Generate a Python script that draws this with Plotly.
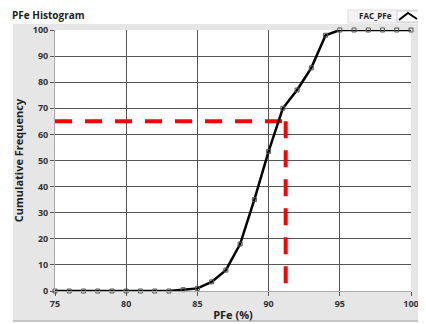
import plotly.graph_objects as go

pfe = list(range(75, 101))
cum_freq = [0, 0, 0, 0, 0, 0, 0, 0, 0, 0.5, 1, 3.5, 8, 18, 35, 53.5, 70, 77, 85.5, 98, 100, 100, 100, 100, 100, 100]
target_x = 91.2
target_y = 65
x_ticks = [75, 80, 85, 90, 95, 100]
y_ticks = [0, 10, 20, 30, 40, 50, 60, 70, 80, 90, 100]

FONT = "Open Sans"
W, H = 356, 261
fig = go.Figure()

fig.add_trace(go.Scatter(
    x=[pfe[0], target_x], y=[target_y, target_y], mode="lines",
    line=dict(color="#ff0000", width=4, dash="17px,13px"), hoverinfo="skip"))
fig.add_trace(go.Scatter(
    x=[target_x, target_x], y=[target_y, 0], mode="lines",
    line=dict(color="#ff0000", width=4, dash="17px,12px"), hoverinfo="skip"))
fig.add_trace(go.Scatter(
    x=pfe, y=cum_freq, mode="lines+markers", name="FAC_PFe",
    line=dict(color="#000000", width=2.5),
    marker=dict(symbol="square-open", size=4, color="#555555", line=dict(width=1)),
    cliponaxis=False))

# the page body adds an 8px offset, so the figure is 8px smaller
fig.update_layout(
    width=418, height=316,
    margin=dict(l=47, r=15, t=22, b=33, autoexpand=False),
    paper_bgcolor="#ffffff", plot_bgcolor="#ffffff",
    showlegend=False,
    font=dict(family=FONT, size=9, color="#333333"),
    shapes=[
        dict(type="rect", xref="paper", yref="paper", layer="below",
             x0=-42 / W, x1=1 + 11 / W, y0=-29 / H, y1=1 + 6 / H,
             fillcolor="#e6e6e6", line=dict(width=0)),
        dict(type="line", xref="paper", yref="paper", layer="below",
             x0=-42 / W, x1=1 + 11 / W, y0=-30 / H, y1=-30 / H,
             line=dict(color="#c4c4c4", width=2)),
        dict(type="rect", xref="x domain", yref="y domain", layer="below",
             x0=0, x1=1, y0=0, y1=1,
             fillcolor="#ffffff", line=dict(width=0)),
        dict(type="rect", xref="paper", yref="paper",
             x0=1 - 63 / W, x1=1 + 9 / W, y0=1 + 7 / H, y1=1 + 20 / H,
             fillcolor="#f4f4f4", line=dict(color="#dddddd", width=1)),
        dict(type="rect", xref="paper", yref="paper",
             x0=1 - 14 / W, x1=1 + 8 / W, y0=1 + 8 / H, y1=1 + 19 / H,
             fillcolor="#ffffff", line=dict(color="#cccccc", width=1)),
        dict(type="path", xref="paper", yref="paper",
             path="M %f %f L %f %f L %f %f" % (1 - 12 / W, 1 + 10 / H, 1 - 3 / W,
                                              1 + 17 / H, 1 + 6 / W, 1 + 11 / H),
             line=dict(color="#000000", width=2)),
    ],
    annotations=[
        dict(text="<b>PFe Histogram</b>", xref="paper", yref="paper",
             x=-45 / W, y=1 + 15 / H, xanchor="left", yanchor="middle",
             showarrow=False, font=dict(family=FONT, size=10, color="#222222")),
        dict(text="<b>FAC_PFe</b>", xref="paper", yref="paper",
             x=1 - 17 / W, y=1 + 14 / H, xanchor="right", yanchor="middle",
             showarrow=False, font=dict(family=FONT, size=8, color="#222222")),
    ],
)

fig.update_xaxes(
    range=[75, 100], tickvals=x_ticks, ticktext=[str(v) for v in x_ticks],
    automargin=False,
    showgrid=True, gridcolor="#555555", gridwidth=1,
    ticks="outside", ticklen=4, tickcolor="#555555",
    showline=True, linecolor="#aaaaaa", zeroline=False,
    tickfont=dict(family=FONT, size=9, color="#333333", weight="bold"),
    title=dict(text="<b>PFe (%)</b>", standoff=2,
               font=dict(family=FONT, size=11, color="#222222")),
)
fig.update_yaxes(
    range=[0, 100], tickvals=y_ticks, ticktext=[str(v) for v in y_ticks],
    automargin=False,
    showgrid=True, gridcolor="#555555", gridwidth=1,
    ticks="outside", ticklen=4, tickcolor="#555555",
    showline=True, linecolor="#aaaaaa", zeroline=False,
    tickfont=dict(family=FONT, size=9, color="#333333", weight="bold"),
    title=dict(text="<b>Cumulative Frequency</b>", standoff=6,
               font=dict(family=FONT, size=11, color="#222222")),
)

fig.write_html("out.html")
